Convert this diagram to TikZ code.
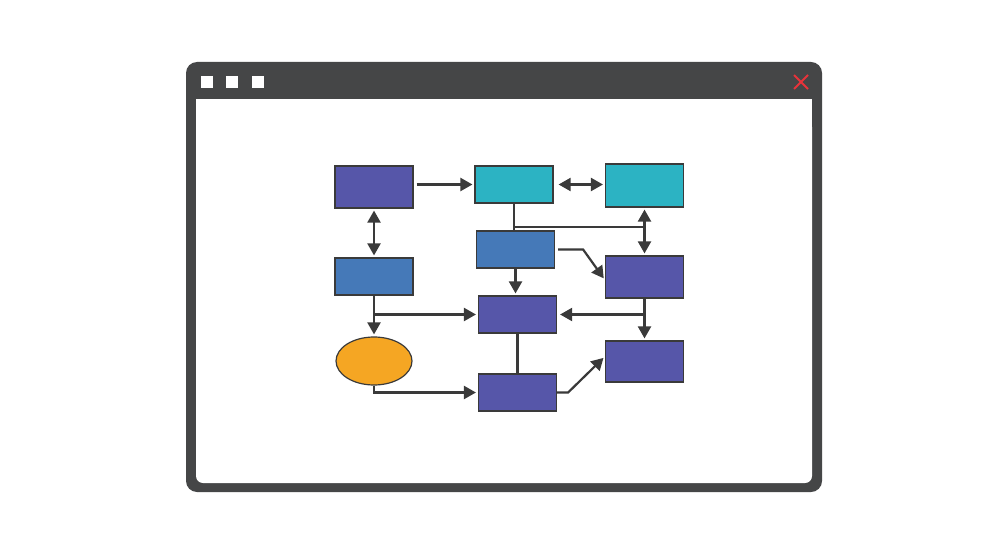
\documentclass[tikz,border=0pt]{standalone}
\usetikzlibrary{arrows.meta,shapes.geometric}
\definecolor{frame}{HTML}{454647}
\definecolor{violet}{HTML}{5656A9}
\definecolor{tealbox}{HTML}{2CB3C3}
\definecolor{bluebox}{HTML}{4579B8}
\definecolor{orange}{HTML}{F5A623}
\definecolor{closered}{HTML}{E8333A}
\definecolor{wire}{HTML}{3A3A3A}
\begin{document}
\begin{tikzpicture}[x=1pt,y=-1pt,
	box/.style={draw=wire,line width=1.2pt,minimum width=78pt,inner sep=0pt},
	line/.style={wire,line width=2.2pt},
	arr/.style={line,-{Triangle[length=12pt,width=13pt]},shorten >=2pt},
	dbl/.style={line,{Triangle[length=12pt,width=13pt]}-{Triangle[length=12pt,width=13pt]},shorten >=2pt,shorten <=2pt}]
		\useasboundingbox[fill=white] (0,0) rectangle (1000,545);
		% fenetre
		\fill[frame,rounded corners=11pt] (186,62) rectangle (822,492);
		\fill[white,rounded corners=7pt] (196,120) rectangle (812,483);
		\fill[white] (196,99) rectangle (812,140);
		\foreach \k in {207,232,258}{
			\fill[white] (\k-6,76) rectangle (\k+6,88);}
		\draw[closered,line width=2pt] (794,75) -- (808,89) (808,75) -- (794,89);
		
		% blocs
		\node[box,fill=violet,minimum height=42pt] (a) at (374,187) {};
		\node[box,fill=tealbox,minimum height=37pt] (b) at (514,184.5) {};
		\node[box,fill=tealbox,minimum height=43pt] (c) at (644.5,185.5) {};
		\node[box,fill=bluebox,minimum height=37pt] (d) at (374,276.5) {};
		\node[box,fill=bluebox,minimum height=37pt] (e) at (515.5,249.5) {};
		\node[box,fill=violet,minimum height=42pt] (f) at (644.5,277) {};
		\node[box,fill=violet,minimum height=37pt] (g) at (517.5,314.5) {};
		\node[box,ellipse,fill=orange,minimum width=76pt,minimum height=48pt] (h) at (374,361) {};
		\node[box,fill=violet,minimum height=37pt] (i) at (517.5,392.5) {};
		\node[box,fill=violet,minimum height=41pt] (j) at (644.5,361.5) {};
		
		% liaisons
		\coordinate (bh) at (b.south |- 0,227);
		\draw[arr,shorten <=3pt] (a.east |- b.west) -- (b.west);
		\draw[dbl,shorten <=5pt] (b.east) -- (b.east -| c.west);
		\draw[dbl] (a.south) -- (d.north);
		\draw[line] (b.south) -- (b.south |- e.north);
		\draw[line] (bh) -- (bh -| c.south);
		\draw[dbl] (c.south) -- (f.north);
		\draw[arr,shorten <=3pt] (e.east) -- ++(28,0) -- ([yshift=-3pt]f.west);
		\draw[arr] (e.south) -- (e.south |- g.north);
		\draw[arr] (d.south) -- (h.north);
		\draw[arr] (d.south |- g.west) -- (g.west);
		\draw[arr,shorten >=3pt] (f.south |- g.east) -- (g.east);
		\draw[arr] (f.south) -- (j.north);
		\draw[line] (g.south) -- (i.north);
		\draw[arr] (h.south) -- (h.south |- i.west) -- (i.west);
		\draw[arr] (i.east) -- ++(11,0) -- ([yshift=5pt]j.west);
	\end{tikzpicture}
\end{document}
